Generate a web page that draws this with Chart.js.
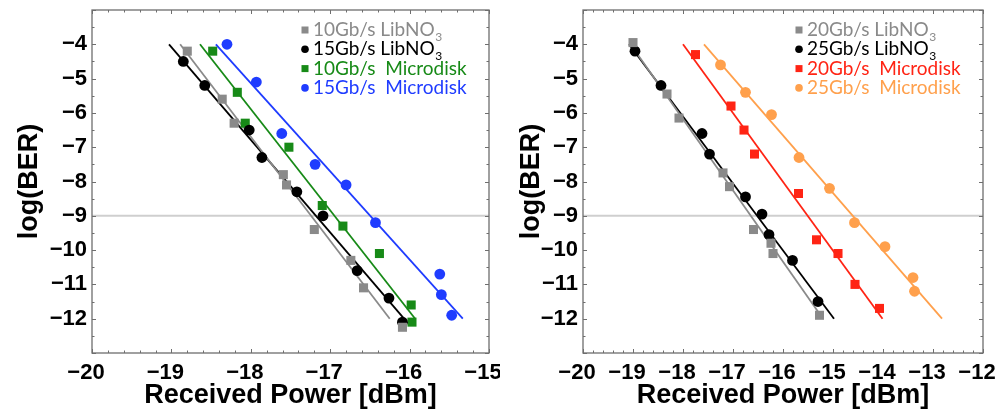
<!DOCTYPE html>
<html>
<head>
<meta charset="utf-8">
<script src="https://cdn.jsdelivr.net/npm/chart.js@4.4.1/dist/chart.umd.min.js"></script>
<style>
  html, body { margin: 0; padding: 0; background: #fff; }
  #wrap { position: relative; width: 998px; height: 412px; overflow: hidden; }
  .panel { position: absolute; top: 0; width: 500px; height: 412px; }
</style>
</head>
<body>
<div id="wrap">
  <div class="panel" style="left:0"><canvas id="left" width="500" height="412"></canvas></div>
  <div class="panel" style="left:498px"><canvas id="right" width="500" height="412"></canvas></div>
</div>
<script>
// ---- data ----
var yTicks = [-4, -5, -6, -7, -8, -9, -10, -11, -12];
var xTicksLeft = [-20, -19, -18, -17, -16, -15];
var xTicksRight = [-20, -19, -18, -17, -16, -15, -14, -13, -12];
var berLimit = -9;

// left panel: 10 / 15 Gb/s
var lib10X  = [-18.80, -18.36, -18.21, -17.59, -17.55, -17.20, -16.74, -16.58, -16.09];
var lib10Y  = [-4.2, -5.6, -6.3, -7.8, -8.1, -9.4, -10.3, -11.1, -12.25];
var lib15X  = [-18.85, -18.58, -18.02, -17.86, -17.42, -17.09, -16.66, -16.26, -16.09];
var lib15Y  = [-4.5, -5.2, -6.5, -7.3, -8.3, -9.0, -10.6, -11.4, -12.1];
var disk10X = [-18.48, -18.17, -18.07, -17.52, -17.10, -16.84, -16.38, -15.98, -15.97];
var disk10Y = [-4.2, -5.4, -6.3, -7.0, -8.7, -9.3, -10.1, -11.6, -12.1];
var disk15X = [-18.30, -17.93, -17.61, -17.19, -16.80, -16.43, -15.62, -15.60, -15.47];
var disk15Y = [-4.0, -5.1, -6.6, -7.5, -8.1, -9.2, -10.7, -11.3, -11.9];

// right panel: 20 / 25 Gb/s
var lib20X  = [-19.00, -18.32, -18.08, -17.20, -17.07, -16.59, -16.24, -16.20, -15.27];
var lib20Y  = [-3.95, -5.45, -6.15, -7.75, -8.15, -9.4, -9.8, -10.1, -11.9];
var lib25X  = [-18.96, -18.44, -17.62, -17.47, -16.75, -16.42, -16.28, -15.81, -15.30];
var lib25Y  = [-4.2, -5.2, -6.6, -7.2, -8.45, -8.95, -9.55, -10.3, -11.5];
var disk20X = [-17.75, -17.04, -16.78, -16.57, -15.69, -15.33, -14.90, -14.56, -14.07];
var disk20Y = [-4.3, -5.8, -6.5, -7.2, -8.35, -9.7, -10.1, -11.0, -11.7];
var disk25X = [-17.25, -16.75, -16.23, -15.68, -15.07, -14.57, -13.96, -13.40, -13.37];
var disk25Y = [-4.6, -5.4, -6.05, -7.3, -8.2, -9.2, -9.9, -10.8, -11.2];

// fitted lines: x at log(BER) = -4 and -12
var fitY = [-4, -12];
var fitLib10X = [-18.89, -16.25];
var fitLib15X = [-19.03, -16.07];
var fitDisk10X = [-18.64, -15.93];
var fitDisk15X = [-18.44, -15.33];
var fitLib20X = [-19.05, -15.20];
var fitLib25X = [-19.08, -14.98];
var fitDisk20X = [-18.00, -14.01];
var fitDisk25X = [-17.58, -12.82];

var GRAY = '#8a8a8a', BLACK = '#000000', GREEN = '#178a17', BLUE = '#1f3cff',
    RED = '#ff2414', ORANGE = '#ffa04c';

function pts(xs, ys) {
    return xs.map(function (x, i) { return {x: x, y: ys[i]}; });
}

function markers(label, xs, ys, color, style) {
    return {
        type: 'scatter', label: label, data: pts(xs, ys), inLegend: true,
        pointStyle: style, pointRadius: style === 'rect' ? 6.4 : 5.4,
        backgroundColor: color, borderColor: color, borderWidth: 0, order: 1
    };
}

function fitLine(xs, color) {
    return {
        type: 'line', data: pts(xs, fitY), borderColor: color, borderWidth: 1.8,
        pointRadius: 0, fill: false, order: 2
    };
}

function limitLine(min, max) {
    return {
        type: 'line', data: pts([min, max], [berLimit, berLimit]), borderColor: '#cfcfcf',
        borderWidth: 2, pointRadius: 0, fill: false, order: 3
    };
}

function fmt(v) {
    return v < 0 ? '\u2212' + Math.abs(v) : String(v);
}

//box with inward ticks on all four sides
var framePlugin = {
    id: 'frame',
    afterDatasetsDraw: function (chart) {
        var ctx = chart.ctx, a = chart.chartArea;
        var xs = chart.scales.x, ys = chart.scales.y;
        ctx.save();
        ctx.strokeStyle = '#6e6e6e';
        ctx.lineWidth = 1.3;
        ctx.strokeRect(a.left, a.top, a.right - a.left, a.bottom - a.top);
        ctx.lineWidth = 1;
        ctx.beginPath();
        var v, p, len;
        for (var i = 0; i <= Math.round((xs.max - xs.min) / 0.2); i++) {
            v = xs.min + i * 0.2;
            p = Math.round(xs.getPixelForValue(v)) + 0.5;
            len = (i % 5 === 0) ? 4 : 2.5;
            ctx.moveTo(p, a.bottom); ctx.lineTo(p, a.bottom - len);
            ctx.moveTo(p, a.top); ctx.lineTo(p, a.top + len);
        }
        for (var j = 0; j <= Math.round((ys.max - ys.min) / 0.5); j++) {
            v = ys.min + j * 0.5;
            p = Math.round(ys.getPixelForValue(v)) + 0.5;
            len = (j % 2 === 0) ? 4 : 2.5;
            ctx.moveTo(a.left, p); ctx.lineTo(a.left + len, p);
            ctx.moveTo(a.right, p); ctx.lineTo(a.right - len, p);
        }
        ctx.stroke();
        ctx.restore();
    }
};

//legend inside the plot, text in series colour, subscript 3
var legendPlugin = {
    id: 'subLegend',
    afterDraw: function (chart) {
        var ctx = chart.ctx, a = chart.chartArea;
        var mx = a.right - 184, tx = a.right - 176;
        var y = a.top + 20;
        ctx.save();
        ctx.textBaseline = 'middle';
        ctx.textAlign = 'left';
        chart.data.datasets.forEach(function (d) {
            if (!d.inLegend) return;
            ctx.fillStyle = d.backgroundColor;
            if (d.pointStyle === 'rect') {
                ctx.fillRect(mx - 3.5, y - 3.5, 7, 7);
            } else {
                ctx.beginPath(); ctx.arc(mx, y, 3.8, 0, Math.PI * 2); ctx.fill();
            }
            var parts = d.label.split('\u2083');
            ctx.font = '19px Lato';
            ctx.fillText(parts[0], tx, y);
            if (parts.length > 1) {
                var w = ctx.measureText(parts[0]).width;
                ctx.font = '12px Lato';
                ctx.fillText('3', tx + w + 0.5, y + 7);
            }
            y += 19.3;
        });
        ctx.restore();
    }
};

function makeChart(id, datasets, xTicks, opt) {
    var tickFont = {family: 'Liberation Sans', size: 22, weight: 'bold'};
    var titleFont = {family: 'Liberation Sans', size: 27, weight: 'bold'};
    return new Chart(document.getElementById(id), {
        data: {datasets: datasets},
        options: {
            responsive: false, animation: false, devicePixelRatio: 1,
            layout: {padding: {top: 10, right: opt.padRight, left: 0, bottom: 0}},
            plugins: {legend: {display: false}, tooltip: {enabled: false}},
            scales: {
                x: {
                    type: 'linear', position: 'bottom', min: xTicks[0], max: xTicks[xTicks.length - 1],
                    afterBuildTicks: function (s) { s.ticks = xTicks.map(function (v) { return {value: v}; }); },
                    afterFit: function (s) { s.height = 59; s.paddingLeft = 0; s.paddingRight = 0; },
                    grid: {display: false, drawTicks: false}, border: {display: false},
                    ticks: {font: tickFont, color: '#000', padding: 7, labelOffset: -6, maxRotation: 0, autoSkip: false, callback: fmt},
                    title: {display: true, text: 'Received Power [dBm]', font: titleFont, color: '#000', padding: {top: 0, bottom: 0}}
                },
                y: {
                    type: 'linear', position: 'left', min: -13, max: -3,
                    afterBuildTicks: function (s) { s.ticks = yTicks.map(function (v) { return {value: v}; }); },
                    afterFit: function (s) { s.width = opt.axisWidth; s.paddingTop = 0; s.paddingBottom = 0; },
                    grid: {display: false, drawTicks: false}, border: {display: false},
                    ticks: {font: tickFont, color: '#000', padding: 5, autoSkip: false, callback: fmt},
                    title: {display: true, text: 'log(BER)', font: titleFont, color: '#000', padding: {top: opt.titlePad, bottom: 0}}
                }
            }
        },
        plugins: [framePlugin, legendPlugin]
    });
}

makeChart('left', [
    markers('10Gb/s LibNO\u2083', lib10X, lib10Y, GRAY, 'rect'),
    markers('15Gb/s LibNO\u2083', lib15X, lib15Y, BLACK, 'circle'),
    markers('10Gb/s  Microdisk', disk10X, disk10Y, GREEN, 'rect'),
    markers('15Gb/s  Microdisk', disk15X, disk15Y, BLUE, 'circle'),
    fitLine(fitLib10X, GRAY),
    fitLine(fitLib15X, BLACK),
    fitLine(fitDisk10X, GREEN),
    fitLine(fitDisk15X, BLUE),
    limitLine(-20, -15)
], xTicksLeft, {padRight: 11, axisWidth: 92, titlePad: 13});

makeChart('right', [
    markers('20Gb/s LibNO\u2083', lib20X, lib20Y, GRAY, 'rect'),
    markers('25Gb/s LibNO\u2083', lib25X, lib25Y, BLACK, 'circle'),
    markers('20Gb/s  Microdisk', disk20X, disk20Y, RED, 'rect'),
    markers('25Gb/s  Microdisk', disk25X, disk25Y, ORANGE, 'circle'),
    fitLine(fitLib20X, GRAY),
    fitLine(fitLib25X, BLACK),
    fitLine(fitDisk20X, RED),
    fitLine(fitDisk25X, ORANGE),
    limitLine(-20, -12)
], xTicksRight, {padRight: 15, axisWidth: 85, titlePad: 17});
</script>
</body>
</html>
